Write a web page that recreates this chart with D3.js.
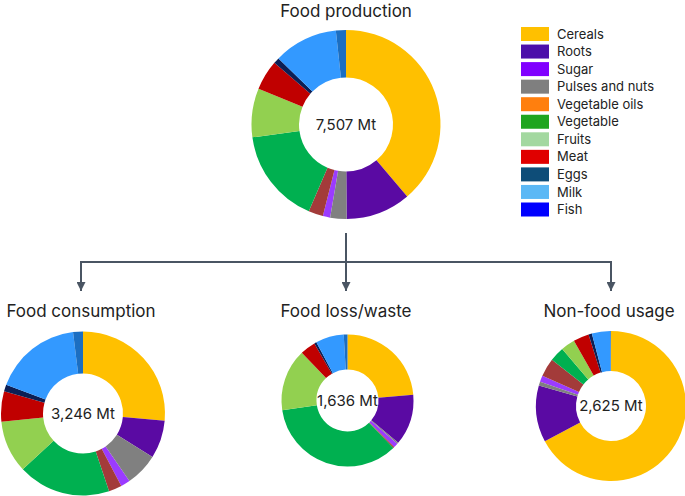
<!DOCTYPE html>
<html>
<head>
<meta charset="utf-8">
<script src="https://cdn.jsdelivr.net/npm/d3@7"></script>
<style>
  body { margin: 0; background: #fff; }
  svg { display: block; font-family: Inter, "Noto Sans", sans-serif; }
</style>
</head>
<body>
<div id="chart"></div>
<script>
// food groups, legend order
const categories = ['Cereals', 'Roots', 'Sugar', 'Pulses and nuts', 'Vegetable oils', 'Vegetable',
  'Fruits', 'Meat', 'Eggs', 'Milk', 'Fish'];
// order the slices run clockwise from 12 o'clock
const pieOrder = ['Cereals', 'Roots', 'Pulses and nuts', 'Sugar', 'Vegetable oils', 'Vegetable',
  'Fruits', 'Meat', 'Eggs', 'Milk', 'Fish'];

// values in Mt, legend order
const production = [2912, 834, 94, 209, 188, 1230, 626, 386, 77, 822, 129];
const consumption = [858, 243, 60, 211, 84, 593, 334, 193, 43, 564, 63];
const lossWaste = [386, 204, 18, 5, 5, 570, 249, 62, 9, 113, 15];
const nonFood = [1764, 320, 36, 22, 104, 83, 80, 89, 19, 104, 4];

const panelTitles = ['Food production', 'Food consumption', 'Food loss/waste', 'Non-food usage'];

// slice colours and legend colours differ in the original figure
const sliceColors = ['#ffc000', '#5a0aa3', '#9b3bff', '#808080', '#a33b3a', '#00b050',
  '#92d050', '#c00000', '#0c1f55', '#3399ff', '#1b6ec2'];
const legendColors = ['#ffc000', '#4b0faa', '#8000ff', '#7f7f7f', '#ff7f0e', '#1fa51f',
  '#a3d8a0', '#e00000', '#0e4d78', '#5bb8f5', '#0000ff'];

const width = 685, height = 496;
const svg = d3.select('#chart').append('svg')
  .attr('width', width)
  .attr('height', height);

const sliceColor = d3.scaleOrdinal().domain(categories).range(sliceColors);
const legendColor = d3.scaleOrdinal().domain(categories).range(legendColors);
const fmt = d3.format(',');

const pie = d3.pie()
  .value(d => d.value)
  .sort((a, b) => pieOrder.indexOf(a.name) - pieOrder.indexOf(b.name));

// draw one donut with its total in the hole
function drawDonut(values, cx, cy, r, inner) {
  const data = categories.map((c, i) => ({ name: c, value: values[i] }));
  const arc = d3.arc().innerRadius(inner).outerRadius(r);
  const g = svg.append('g').attr('transform', 'translate(' + cx + ',' + cy + ')');
  g.selectAll('path')
    .data(pie(data))
    .join('path')
    .attr('d', arc)
    .attr('fill', d => sliceColor(d.data.name));
  g.append('text')
    .attr('text-anchor', 'middle')
    .attr('dy', '0.36em')
    .attr('font-size', 15)
    .attr('fill', '#222')
    .text(fmt(d3.sum(values)) + ' Mt');
}

drawDonut(production, 346, 124.5, 94.5, 47);
drawDonut(consumption, 83, 413.5, 82, 40);
drawDonut(lossWaste, 347.5, 400.5, 66, 31);
drawDonut(nonFood, 611, 406, 75, 35);

// titles
const titlePos = [[346, 17], [81, 317], [346, 317], [609, 317]];
svg.selectAll('text.title')
  .data(panelTitles)
  .join('text')
  .attr('class', 'title')
  .attr('x', (d, i) => titlePos[i][0])
  .attr('y', (d, i) => titlePos[i][1])
  .attr('text-anchor', 'middle')
  .attr('font-size', 17)
  .attr('fill', '#222')
  .text(d => d);

// connector arrows
const lineColor = '#4a5563';
svg.append('defs').append('marker')
  .attr('id', 'arrow')
  .attr('viewBox', '0 0 10 10')
  .attr('refX', 10)
  .attr('refY', 5)
  .attr('markerWidth', 4.5)
  .attr('markerHeight', 4.5)
  .attr('markerUnits', 'strokeWidth')
  .attr('orient', 'auto')
  .append('path')
  .attr('d', 'M0,0 L10,5 L0,10 Z')
  .attr('fill', lineColor);

const conn = svg.append('g')
  .attr('stroke', lineColor)
  .attr('stroke-width', 2)
  .attr('fill', 'none');
conn.append('line').attr('x1', 346).attr('y1', 233).attr('x2', 346).attr('y2', 262);
conn.append('line').attr('x1', 80).attr('y1', 262).attr('x2', 612).attr('y2', 262);
[81, 346, 611].forEach(x => {
  conn.append('line')
    .attr('x1', x).attr('y1', 262)
    .attr('x2', x).attr('y2', 291)
    .attr('marker-end', 'url(#arrow)');
});

// legend
const legend = svg.append('g').attr('transform', 'translate(521,27)');
const rows = legend.selectAll('g')
  .data(categories)
  .join('g')
  .attr('transform', (d, i) => 'translate(0,' + i * 17.55 + ')');
rows.append('rect')
  .attr('width', 28)
  .attr('height', 14)
  .attr('fill', d => legendColor(d));
rows.append('text')
  .attr('x', 36)
  .attr('y', 7)
  .attr('dy', '0.35em')
  .attr('font-size', 13)
  .attr('fill', '#222')
  .text(d => d);
</script>
</body>
</html>
